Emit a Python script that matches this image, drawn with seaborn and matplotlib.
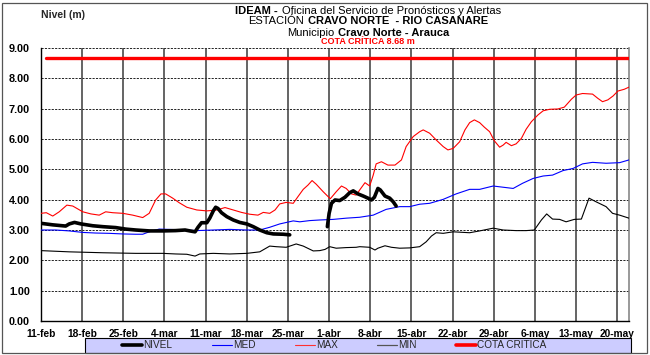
import matplotlib
matplotlib.use("Agg")
import numpy as np
import pandas as pd
import matplotlib.pyplot as plt
from matplotlib.lines import Line2D
from matplotlib.patches import Rectangle
from matplotlib.offsetbox import TextArea, HPacker, AnnotationBbox
import seaborn as sns

# ---------------------------------------------------------------
# Datos: días contados desde el 11-feb, niveles en metros
# ---------------------------------------------------------------
etiquetas_x = ["11-feb", "18-feb", "25-feb", "4-mar", "11-mar", "18-mar", "25-mar",
               "1-abr", "8-abr", "15-abr", "22-abr", "29-abr", "6-may", "13-may", "20-may"]
valores_y = [0, 1, 2, 3, 4, 5, 6, 7, 8, 9]

cota_critica = 8.68

max_dias = [0, 0.9, 2, 3.1, 4.4, 5.4, 7.1, 8.5, 9.9, 11, 12.2, 13.9, 15.6, 17.3, 18.4,
            19.5, 20.4, 21.2, 22.4, 23.5, 24.8, 26.5, 28.2, 29.9, 31.3, 32.7, 34.1,
            35.5, 36.9, 37.8, 38.9, 39.8, 40.6, 41.7, 42.9, 43.7, 44.6, 45.4, 46.1,
            46.8, 48, 49.2, 50.2, 51.1, 51.9, 52.8, 53.6, 54.2, 55.1, 55.9, 56.5, 57,
            57.9, 59, 60.2, 61.3, 62.1, 63.3, 64.4, 65, 66.1, 67.2, 68.4, 69.2, 70.1,
            71.2, 72.1, 72.9, 73.7, 74.6, 75.4, 76.3, 77.1, 78, 78.6, 79.1, 80, 80.8,
            81.7, 82.5, 83.4, 84.5, 85.4, 86.5, 87.9, 89, 90.2, 91, 92.1, 93.8, 94.7,
            95.5, 96.4, 97.3, 98.1, 99.2, 100]
max_nivel = [3.55, 3.57, 3.46, 3.60, 3.82, 3.79, 3.60, 3.53, 3.49, 3.60, 3.57, 3.55,
             3.49, 3.41, 3.55, 3.99, 4.19, 4.19, 4.05, 3.90, 3.75, 3.66, 3.63, 3.66,
             3.74, 3.66, 3.58, 3.52, 3.49, 3.58, 3.55, 3.66, 3.86, 3.91, 3.88, 4.10,
             4.34, 4.48, 4.63, 4.51, 4.26, 4.03, 4.26, 4.45, 4.37, 4.19, 4.15, 4.32,
             4.56, 4.45, 4.81, 5.18, 5.25, 5.14, 5.14, 5.31, 5.75, 6.08, 6.24, 6.30,
             6.19, 5.97, 5.75, 5.64, 5.69, 5.91, 6.30, 6.54, 6.63, 6.54, 6.39, 6.24,
             5.94, 5.73, 5.80, 5.89, 5.78, 5.84, 6.02, 6.32, 6.57, 6.79, 6.93, 6.98,
             6.99, 7.05, 7.31, 7.45, 7.50, 7.48, 7.34, 7.23, 7.29, 7.42, 7.58, 7.64, 7.71]

med_dias = [0, 2.5, 4.8, 7.1, 9.3, 11.6, 13.9, 16.1, 17.3, 18.4, 20.1, 21.8, 24.6,
            26.5, 29.3, 32.1, 35, 37.2, 38.9, 40.6, 42.9, 44, 45.7, 47.4, 49.7, 51.9,
            54.2, 56.5, 58.7, 61, 62.7, 64.4, 66.1, 68.4, 70.6, 72.9, 74.6, 76.9,
            78.6, 80.3, 81.9, 83.7, 85.4, 87, 88.8, 90.5, 92.1, 93.8, 96.1, 98.4, 100]
med_nivel = [3.00, 3.00, 2.97, 2.92, 2.90, 2.89, 2.87, 2.86, 2.86, 2.94, 3.03, 3.02,
             3.00, 2.98, 3.00, 3.02, 3.00, 3.00, 3.09, 3.20, 3.30, 3.27, 3.31, 3.33,
             3.35, 3.39, 3.42, 3.49, 3.68, 3.77, 3.77, 3.85, 3.88, 4.01, 4.19, 4.34,
             4.34, 4.45, 4.41, 4.37, 4.54, 4.70, 4.78, 4.81, 4.96, 5.03, 5.18, 5.23,
             5.20, 5.22, 5.31]

min_dias = [0, 4.8, 10.5, 16.1, 20.7, 22.9, 24.8, 26.2, 27, 29.3, 32.1, 35, 37.2,
            38.9, 40, 41.7, 43.4, 44.6, 46.3, 47.4, 48.3, 49.1, 50.2, 51.9, 53.6,
            54.2, 55.9, 56.8, 57.3, 58.5, 59.6, 61, 62.7, 64.4, 65.5, 66.4, 67.2,
            68.4, 70.1, 72.9, 74.6, 76.9, 78.6, 80.8, 82.5, 83.9, 85.1, 86, 87, 88.2,
            89.3, 90.7, 91.9, 93.2, 94.4, 96.1, 97.2, 98.4, 100]
min_nivel = [2.32, 2.28, 2.25, 2.23, 2.23, 2.21, 2.20, 2.14, 2.21, 2.23, 2.21, 2.23,
             2.28, 2.47, 2.45, 2.43, 2.54, 2.47, 2.31, 2.32, 2.36, 2.45, 2.40, 2.42,
             2.43, 2.45, 2.43, 2.34, 2.40, 2.48, 2.43, 2.40, 2.41, 2.45, 2.61, 2.80,
             2.91, 2.89, 2.94, 2.91, 2.97, 3.06, 3.00, 2.98, 2.98, 3.00, 3.33, 3.53,
             3.36, 3.35, 3.27, 3.35, 3.36, 4.05, 3.93, 3.77, 3.55, 3.49, 3.39]

# Nivel observado: dos tramos con datos
nivel_dias_1 = [0, 2, 4.2, 4.8, 5.7, 6.8, 8.8, 10.5, 12.7, 14.4, 16.1, 18.4, 20.7,
                22.9, 24.5, 25.3, 26.2, 26.7, 27.3, 28.2, 28.7, 29.3, 29.7, 30.1,
                30.7, 31.6, 32.7, 33.8, 35, 36.1, 37.2, 38.4, 39.5, 41.2, 42.3]
nivel_obs_1 = [3.22, 3.17, 3.13, 3.20, 3.25, 3.20, 3.14, 3.11, 3.08, 3.03, 3.00,
               2.97, 2.97, 2.98, 3.00, 2.97, 2.94, 3.09, 3.24, 3.24, 3.39, 3.63,
               3.75, 3.71, 3.57, 3.44, 3.33, 3.25, 3.20, 3.11, 3.00, 2.91, 2.87,
               2.86, 2.84]
nivel_dias_2 = [48.7, 49, 49.4, 50, 50.8, 51.7, 52.5, 53.1, 53.9, 54.8, 55.6, 56.2,
                56.7, 57.3, 57.7, 58.5, 59.3, 59.9, 60.4]
nivel_obs_2 = [3.11, 3.55, 3.88, 3.99, 3.97, 4.08, 4.23, 4.29, 4.19, 4.12, 4.05,
               3.99, 4.08, 4.37, 4.32, 4.12, 4.05, 3.93, 3.79]

cota_dias = [0.8, 100]

# ---------------------------------------------------------------
# Tablas para seaborn
# ---------------------------------------------------------------
df_max = pd.DataFrame({"dia": max_dias, "nivel": max_nivel})
df_med = pd.DataFrame({"dia": med_dias, "nivel": med_nivel})
df_min = pd.DataFrame({"dia": min_dias, "nivel": min_nivel})
df_obs = pd.concat([
    pd.DataFrame({"dia": nivel_dias_1, "nivel": nivel_obs_1, "tramo": 1}),
    pd.DataFrame({"dia": nivel_dias_2, "nivel": nivel_obs_2, "tramo": 2}),
], ignore_index=True)
df_cota = pd.DataFrame({"dia": cota_dias, "nivel": [cota_critica] * len(cota_dias)})

# ---------------------------------------------------------------
# Estilo
# ---------------------------------------------------------------
sns.set_theme(style="white")
plt.rcParams["font.family"] = ["Liberation Sans", "DejaVu Sans"]
plt.rcParams["axes.linewidth"] = 1.0

fig = plt.figure(figsize=(6.5, 3.55), dpi=100)
ax = fig.add_axes([41 / 650, 1 - 321 / 355, (629 - 41) / 650, (321 - 48) / 355])
ax.set_facecolor("white")

# Rejilla
for v in valores_y[1:]:
    ax.axhline(v, color="#222222", lw=0.7, ls=(0, (2.2, 1.3)), zorder=1)
dias_ticks = [7 * i for i in range(len(etiquetas_x))]
for d in dias_ticks[1:]:
    ax.axvline(d, color="#3a3a3a", lw=1.1, zorder=1)

kw = dict(ax=ax, x="dia", y="nivel", estimator=None, legend=False)
sns.lineplot(data=df_min, color="#000000", lw=0.8, zorder=3, **kw)
sns.lineplot(data=df_max, color="#ff0000", lw=0.8, zorder=3, **kw)
sns.lineplot(data=df_med, color="#0000ff", lw=0.8, zorder=3, **kw)
sns.lineplot(data=df_obs, units="tramo", color="#000000", lw=2.6, zorder=4, **kw)
sns.lineplot(data=df_cota, color="#ff0000", lw=2.4, zorder=4, **kw)

ax.set_xlim(0, 100)
ax.set_ylim(0, 9)
ax.set_xticks(dias_ticks)
ax.set_xticklabels(etiquetas_x, fontsize=7.3, fontweight="bold")
ax.set_yticks(valores_y)
ax.set_yticklabels([f"{v:.2f}" for v in valores_y], fontsize=7.8, fontweight="bold")
ax.tick_params(axis="x", direction="out", length=4, width=0.9, pad=1.5, colors="black")
ax.tick_params(axis="y", direction="out", length=4, width=0.9, pad=4, colors="black")
ax.set_xlabel("")
ax.set_ylabel("")

for lado in ("left", "bottom"):
    ax.spines[lado].set_color("black")
    ax.spines[lado].set_linewidth(1.0)
ax.spines["top"].set_visible(False)
ax.spines["right"].set_color("#888888")
ax.spines["right"].set_linewidth(1.2)

# Títulos
fig.text(41 / 650, 1 - 15 / 355, "Nivel (m)", fontsize=7.5, fontweight="bold",
         ha="left", va="center")


def linea_mixta(partes, y, size, color="black"):
    cajas = [TextArea(t, textprops=dict(fontsize=size, fontweight=w, color=color,
                                         family=["Liberation Sans", "DejaVu Sans"]))
             for t, w in partes]
    pack = HPacker(children=cajas, align="baseline", pad=0, sep=2.8)
    ab = AnnotationBbox(pack, (368 / 650, 1 - y / 355), xycoords="figure fraction",
                        frameon=False, box_alignment=(0.5, 0.5), pad=0)
    fig.add_artist(ab)


linea_mixta([("IDEAM -", "bold"), ("Oficina del Servicio de Pronósticos y Alertas", "normal")], 11, 8.0)
linea_mixta([("ESTACIÓN", "normal"), ("CRAVO NORTE  - RIO CASANARE", "bold")], 21.5, 8.0)
linea_mixta([("Municipio", "normal"), ("Cravo Norte - Arauca", "bold")], 32.5, 8.0)
linea_mixta([(f"COTA CRÍTICA {cota_critica:.2f} m", "bold")], 41.8, 6.5, color="#ff0000")

# Leyenda
fig.add_artist(Rectangle((85 / 650, 1 - 353 / 355), (631 - 85) / 650, 15 / 355,
                         transform=fig.transFigure, facecolor="#ccccff",
                         edgecolor="black", lw=0.8, zorder=0))
manejadores = [
    Line2D([], [], color="#000000", lw=2.6, label="NIVEL"),
    Line2D([], [], color="#0000ff", lw=0.8, label="MED"),
    Line2D([], [], color="#ff3030", lw=0.8, label="MAX"),
    Line2D([], [], color="#555555", lw=0.9, label="MIN"),
    Line2D([], [], color="#ff0000", lw=2.6, label="COTA CRITICA"),
]
fig.legend(handles=manejadores, loc="center left", bbox_to_anchor=(122 / 650, 1 - 345.5 / 355),
           ncol=5, frameon=False, fontsize=7.2, handlelength=2.0, handletextpad=0.15,
           columnspacing=3.9, borderpad=0, borderaxespad=0)

# Marco exterior
fig.add_artist(Rectangle((2 / 650, 2 / 355), 645 / 650, 350 / 355, transform=fig.transFigure,
                         facecolor="none", edgecolor="#555555", lw=0.9, zorder=10))

fig.savefig("out.png", dpi=100)
